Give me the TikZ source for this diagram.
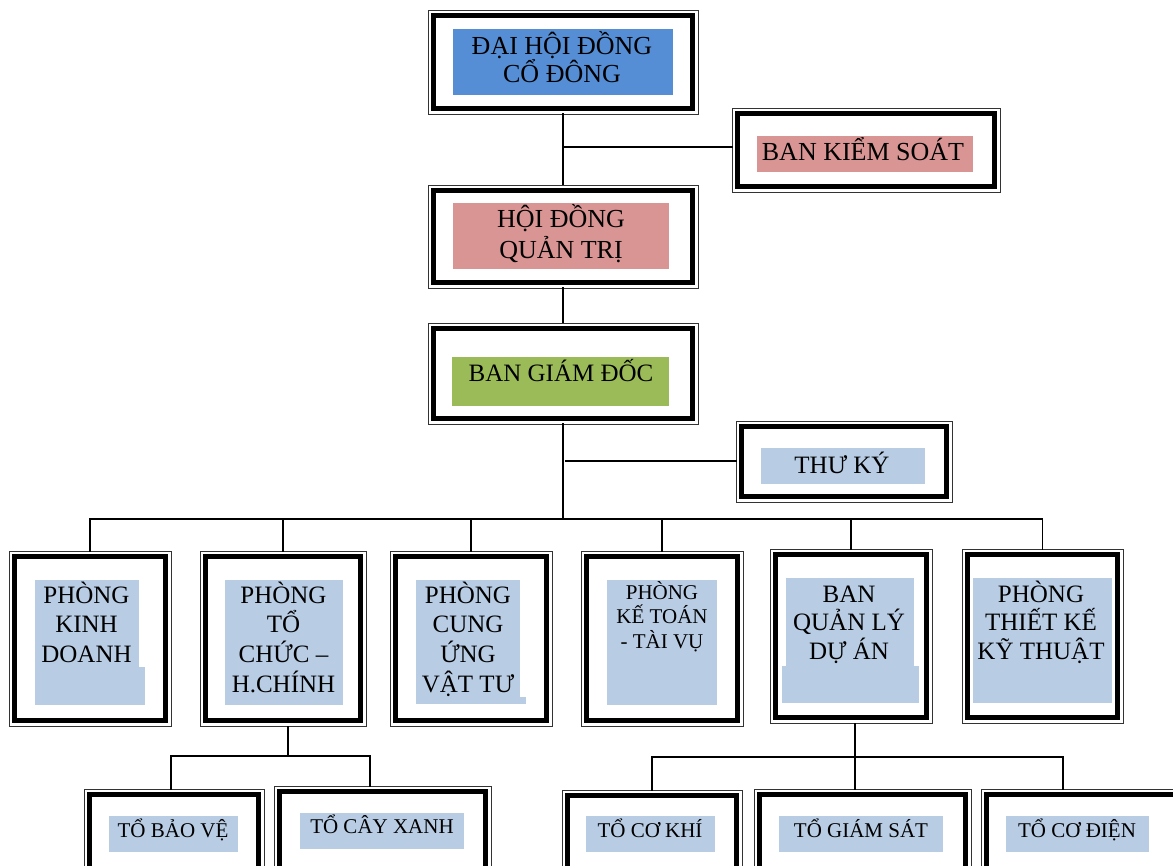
\documentclass[tikz,border=0pt]{standalone}
\usepackage{fontspec}
\setmainfont{Liberation Serif}
\definecolor{cblue}{HTML}{558ED5}
\definecolor{cpink}{HTML}{D99594}
\definecolor{cgreen}{HTML}{9BBB59}
\definecolor{clight}{HTML}{B8CCE4}
\tikzset{
  bx/.style={rectangle, draw=black!80, line width=0.8pt, inner sep=0pt,
    path picture={\draw[line width=5pt,black]
      ([shift={(5.9pt,-5.9pt)}]path picture bounding box.north west) rectangle
      ([shift={(-5.9pt,5.9pt)}]path picture bounding box.south east);}},
  conn/.style={line width=1.8pt, black, line cap=rect},
  tbig/.style={font=\fontsize{26}{30}\selectfont, inner sep=0pt, anchor=base},
  tmid/.style={font=\fontsize{25}{29}\selectfont, inner sep=0pt, anchor=base},
  tsmall/.style={font=\fontsize{21}{25}\selectfont, inner sep=0pt, anchor=base},
}
\begin{document}
\begin{tikzpicture}[x=1pt,y=-1pt]
\clip (0,0) rectangle (1173,866);
\fill[white] (0,0) rectangle (1173,866);

% highlight fills
\fill[cblue] (453,29) rectangle (673,95);
\fill[cpink] (757,136) rectangle (973,172);
\fill[cpink] (453,203) rectangle (669,269);
\fill[cgreen] (452,357) rectangle (669,406);
\fill[clight] (761,448) rectangle (925,484);
\fill[clight] (35,580) rectangle (139,668);
\fill[clight] (35,667) rectangle (145,705);
\fill[clight] (225,580) rectangle (343,705);
\fill[clight] (416,580) rectangle (520,698);
\fill[clight] (416,697) rectangle (526,704);
\fill[clight] (607,580) rectangle (717,705);
\fill[clight] (786,578) rectangle (914,667);
\fill[clight] (782,666) rectangle (919,703);
\fill[clight] (973,578) rectangle (1112,703);
\fill[clight] (109,816) rectangle (238,852);
\fill[clight] (300,813) rectangle (464,849);
\fill[clight] (586,816) rectangle (715,852);
\fill[clight] (779,816) rectangle (943,852);
\fill[clight] (1006,816) rectangle (1149,852);

% boxes
\node[bx, minimum width=270, minimum height=104] (dh) at (563,62) {};
\node[bx, minimum width=268, minimum height=84] (bks) at (866,150) {};
\node[bx, minimum width=270, minimum height=103] (hd) at (563,236.5) {};
\node[bx, minimum width=270, minimum height=101] (bg) at (563,373.5) {};
\node[bx, minimum width=216, minimum height=81] (tk) at (844,461.5) {};
\node[bx, minimum width=162, minimum height=175] (p1) at (90,638.5) {};
\node[bx, minimum width=166, minimum height=175] (p2) at (283,638.5) {};
\node[bx, minimum width=162, minimum height=175] (p3) at (471,638.5) {};
\node[bx, minimum width=162, minimum height=175] (p4) at (662,638.5) {};
\node[bx, minimum width=162, minimum height=174] (p5) at (851,636) {};
\node[bx, minimum width=161, minimum height=174] (p6) at (1042.5,636) {};
\node[bx, minimum width=180, minimum height=92] (t1) at (174,835) {};
\node[bx, minimum width=217, minimum height=95] (t2) at (382.5,833.5) {};
\node[bx, minimum width=180, minimum height=91] (t3) at (652,835.5) {};
\node[bx, minimum width=217, minimum height=92] (t4) at (862.5,835) {};
\node[bx, minimum width=204, minimum height=92] (t5) at (1083,835) {};

% texts
\node[tbig] (dh1) at (562,55) {ĐẠI HỘI ĐỒNG};
\node[tbig] (dh2) at (562,83) {CỔ ĐÔNG};
\node[tbig] (bks1) at (863,161) {BAN KIỂM SOÁT};
\node[tbig] (hd1) at (561,228) {HỘI ĐỒNG};
\node[tbig] (hd2) at (561,259) {QUẢN TRỊ};
\node[tmid] (bg1) at (561,382) {BAN GIÁM ĐỐC};
\node[tmid] (tk1) at (842,473) {THƯ KÝ};

\node[tmid] (p1a) at (86.5,603) {PHÒNG};
\node[tmid] (p1b) at (86.5,632) {KINH};
\node[tmid] (p1c) at (86.5,662) {DOANH};

\node[tmid] (p2a) at (283.5,603) {PHÒNG};
\node[tmid] (p2b) at (283.5,632) {TỔ};
\node[tmid] (p2c) at (283.5,662) {CHỨC –};
\node[tmid] (p2d) at (283.5,692) {H.CHÍNH};

\node[tmid] (p3a) at (468,603) {PHÒNG};
\node[tmid] (p3b) at (468,632) {CUNG};
\node[tmid] (p3c) at (468,662) {ỨNG};
\node[tmid] (p3d) at (468,692) {VẬT TƯ};

\node[tsmall] (p4a) at (662,599) {PHÒNG};
\node[tsmall] (p4b) at (662,623) {KẾ TOÁN};
\node[tsmall] (p4c) at (662,648) {- TÀI VỤ};

\node[tmid] (p5a) at (849,602) {BAN};
\node[tmid] (p5b) at (849,630) {QUẢN LÝ};
\node[tmid] (p5c) at (849,659) {DỰ ÁN};

\node[tmid] (p6a) at (1041,602) {PHÒNG};
\node[tmid] (p6b) at (1041,630) {THIẾT KẾ};
\node[tmid] (p6c) at (1041,659) {KỸ THUẬT};

\node[tsmall] (t1a) at (173,837) {TỔ BẢO VỆ};
\node[tsmall] (t2a) at (382,833) {TỔ CÂY XANH};
\node[tsmall] (t3a) at (650,837) {TỔ CƠ KHÍ};
\node[tsmall] (t4a) at (861,837) {TỔ GIÁM SÁT};
\node[tsmall] (t5a) at (1077,837) {TỔ CƠ ĐIỆN};

% connectors
\coordinate (jA) at (564,147);
\coordinate (jT) at (566,461);
\coordinate (bus) at (566,519);
\draw[conn] (dh.south) -- (hd.north);
\draw[conn] (jA) -- (jA -| bks.west);
\draw[conn] (hd.south) -- (bg.north);
\draw[conn] (bg.south) -- (bg.south |- bus);
\draw[conn] (jT) -- (jT -| tk.west);
\draw[conn] (p1.north |- bus) -- (p6.north |- bus);
\foreach \n in {p1,p2,p3,p4,p5,p6}
  \draw[conn] (\n.north |- bus) -- (\n.north);

\coordinate (k2) at (288,756);
\coordinate (k2L) at (171,756);
\coordinate (k2R) at (370,756);
\draw[conn] (k2 |- p2.south) -- (k2);
\draw[conn] (k2L) -- (k2R);
\draw[conn] (k2L) -- (k2L |- t1.north);
\draw[conn] (k2R) -- (k2R |- t2.north);

\coordinate (k5) at (855,757);
\coordinate (k5L) at (652,757);
\coordinate (k5R) at (1063,757);
\draw[conn] (k5 |- p5.south) -- (k5);
\draw[conn] (k5L) -- (k5R);
\draw[conn] (k5L) -- (k5L |- t3.north);
\draw[conn] (k5) -- (k5 |- t4.north);
\draw[conn] (k5R) -- (k5R |- t5.north);
\end{tikzpicture}
\end{document}
